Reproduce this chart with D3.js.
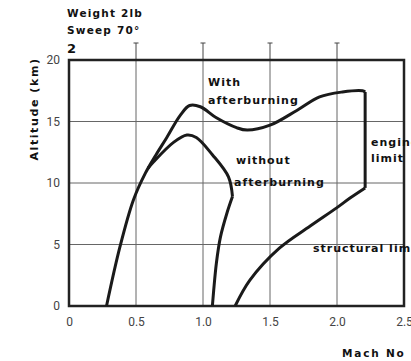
<!DOCTYPE html>
<html lang="en">
<head>
<meta charset="UTF-8" />
<script src="https://d3js.org/d3.v7.min.js"></script>
<style>
    body { margin: 0; background: #fff; }
    text { font-family: "DejaVu Sans", sans-serif; }
    .tick text { font-family: Roboto, "Liberation Sans", sans-serif; font-size: 12px; fill: #444; }
    .note { font-weight: bold; font-size: 11px; fill: #111; letter-spacing: 1px; }
</style>
</head>
<body>
<script>

    // axis ticks
    var xTicks = [0, 0.5, 1.0, 1.5, 2.0, 2.5];
    var yTicks = [0, 5, 10, 15, 20];

    // envelope curves, [mach, altitude km]
    var withAfterburning = [[0.28, 0], [0.38, 4.8], [0.48, 8.6], [0.57, 10.8], [0.65, 12.3], [0.73, 13.7],
        [0.83, 15.5], [0.90, 16.3], [0.98, 16.2], [1.10, 15.3], [1.25, 14.5], [1.33, 14.3], [1.5, 14.7],
        [1.70, 15.9], [1.87, 17.0], [2.04, 17.4], [2.19, 17.5], [2.21, 17.4]];
    var engineLimit = [[2.21, 17.4], [2.21, 9.6]];
    var withoutUpper = [[0.59, 11.2], [0.63, 11.7], [0.78, 13.3], [0.88, 13.9], [0.95, 13.7],
        [1.07, 12.3], [1.19, 10.5], [1.22, 8.9]];
    var withoutLower = [[1.22, 8.9], [1.18, 7.6], [1.13, 5.6], [1.10, 3.5], [1.08, 1.3], [1.07, 0]];
    var structuralLimit = [[1.24, 0], [1.35, 2.1], [1.57, 4.7], [1.8, 6.5], [2.0, 8.0], [2.1, 8.8], [2.21, 9.6]];

    var w = 411, h = 361;
    var svg = d3.select("body").append("svg").attr("width", w).attr("height", h);

    var x = d3.scaleLinear().domain([0, 2.5]).range([69, 404]);
    var y = d3.scaleLinear().domain([0, 20]).range([306, 60]);

    // grid
    svg.append("g").selectAll("line").data(xTicks.slice(1, -1)).enter().append("line")
        .attr("x1", d => x(d)).attr("x2", d => x(d)).attr("y1", y(0)).attr("y2", y(20))
        .attr("stroke", "#666").attr("stroke-width", 1);
    svg.append("g").selectAll("line").data(yTicks.slice(1, -1)).enter().append("line")
        .attr("x1", x(0)).attr("x2", x(2.5)).attr("y1", d => y(d)).attr("y2", d => y(d))
        .attr("stroke", "#666").attr("stroke-width", 1);

    // top ticks sticking up with small caps
    var topTicks = svg.append("g").selectAll("g").data(xTicks.slice(1, -1)).enter().append("g");
    topTicks.append("line").attr("x1", d => x(d)).attr("x2", d => x(d)).attr("y1", y(20)).attr("y2", y(20) - 17)
        .attr("stroke", "#444").attr("stroke-width", 1);
    topTicks.append("line").attr("x1", d => x(d) - 2.5).attr("x2", d => x(d) + 2.5)
        .attr("y1", y(20) - 17).attr("y2", y(20) - 17).attr("stroke", "#444").attr("stroke-width", 1);

    // axes labels
    svg.append("g").attr("transform", `translate(0,${y(0) + 3})`)
        .call(d3.axisBottom(x).tickValues(xTicks).tickSize(0).tickPadding(8)
            .tickFormat(d => d === 0 ? "0" : d3.format(".1f")(d)))
        .call(g => g.select(".domain").remove());
    svg.append("g").attr("transform", `translate(${x(0) - 3},0)`)
        .call(d3.axisLeft(y).tickValues(yTicks).tickSize(0).tickPadding(6))
        .call(g => g.select(".domain").remove());

    // frame
    svg.append("rect").attr("x", x(0)).attr("y", y(20)).attr("width", x(2.5) - x(0)).attr("height", y(0) - y(20))
        .attr("fill", "none").attr("stroke", "#222").attr("stroke-width", 2.5);

    // curves
    var smooth = d3.line().x(d => x(d[0])).y(d => y(d[1])).curve(d3.curveCatmullRom);
    var straight = d3.line().x(d => x(d[0])).y(d => y(d[1]));
    [withAfterburning, withoutUpper, withoutLower, structuralLimit].forEach(function (s) {
        svg.append("path").datum(s).attr("d", smooth)
            .attr("fill", "none").attr("stroke", "#1a1a1a").attr("stroke-width", 3).attr("stroke-linejoin", "round");
    });
    svg.append("path").datum(engineLimit).attr("d", straight)
        .attr("fill", "none").attr("stroke", "#1a1a1a").attr("stroke-width", 3);

    // notes
    function note(t, px, py, size, spacing) {
        svg.append("text").attr("class", "note").attr("x", px).attr("y", py)
            .style("font-size", (size || 11) + "px")
            .style("letter-spacing", (spacing === undefined ? 1 : spacing) + "px").text(t);
    }
    note("With", 208, 86);
    note("afterburning", 208, 104);
    note("without", 236, 164);
    note("afterburning", 234, 186);
    note("engine", 371, 146);
    note("limit", 371, 162);
    note("structural limit", 313, 252);
    note("Weight 2lb", 67, 17, 10.5, 1.2);
    note("Sweep 70°", 67, 34, 10.5, 1.2);
    note("2", 67, 53, 13, 0);
    note("Mach No", 342, 357, 10.5, 1.8);

    svg.append("text").attr("class", "note").attr("transform", "rotate(-90)")
        .attr("x", -109).attr("y", 38).attr("text-anchor", "middle")
        .style("font-size", "11px").style("letter-spacing", "1.6px")
        .text("Altitude (km)");

</script>
</body>
</html>
